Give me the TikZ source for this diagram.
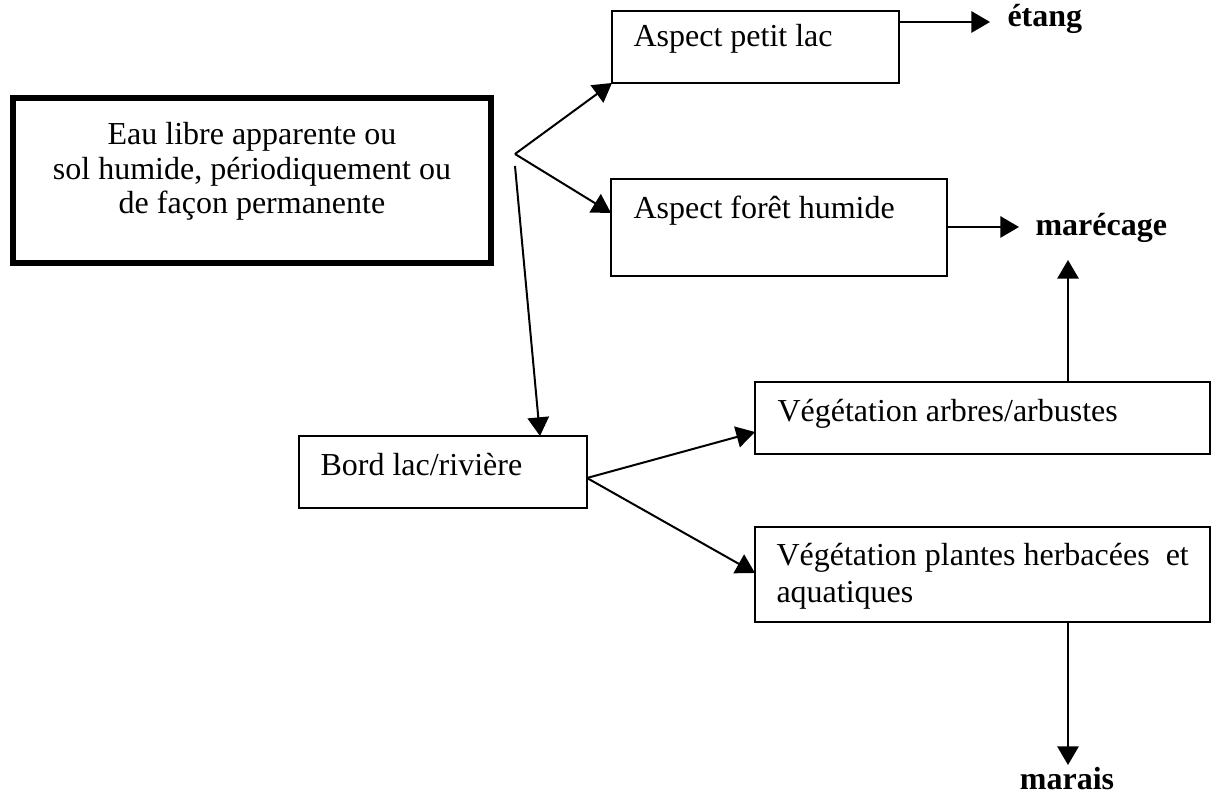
\documentclass[tikz,border=0pt]{standalone}
\usepackage{fontspec}
\setmainfont{Liberation Serif}
\usetikzlibrary{arrows.meta,calc}
\begin{document}
\begin{tikzpicture}[x=0.375pt,y=-0.375pt,
  box/.style={draw,line width=0.75pt,inner sep=0pt,outer sep=0pt,anchor=north west},
  lbl/.style={inner sep=0pt,anchor=base west,font=\fontsize{12pt}{13.8pt}\selectfont},
  outlbl/.style={inner sep=0pt,font=\fontsize{12pt}{13.8pt}\selectfont\bfseries},
  conn/.style={line width=0.75pt,-{Triangle[length=7pt,width=8pt]}}]
\useasboundingbox (0,0) rectangle (1211,796);

% boxes
\node[box,line width=2.3pt,minimum width=179.25pt,minimum height=61.875pt] (main) at (13,98) {};
\node[box,minimum width=107.625pt,minimum height=27pt] (petit) at (612,11) {};
\node[box,minimum width=126pt,minimum height=36.375pt] (foret) at (611,179) {};
\node[box,minimum width=108pt,minimum height=27pt] (bord) at (299,436) {};
\node[box,minimum width=170.625pt,minimum height=27pt] (arbres) at (755,382) {};
\node[box,minimum width=170.625pt,minimum height=35.625pt] (plantes) at (755,527) {};

% texts
\node[inner sep=0pt,anchor=north,align=center,font=\fontsize{12pt}{12.9pt}\selectfont] (tmain) at (252,122)
  {Eau libre apparente ou\\sol humide, périodiquement ou\\de façon permanente};
\node[lbl] (tpetit) at (633,47) {Aspect petit lac};
\node[lbl] (tforet) at (633,219) {Aspect forêt humide};
\node[lbl] (tbord) at (320,476) {Bord lac/rivière};
\node[lbl] (tarbres) at (777,422) {Végétation arbres/arbustes};
\node[lbl,anchor=north west,align=left] (tplantes) at (776,543) {Végétation plantes herbacées\ \ et\\aquatiques};

% outcomes
\node[outlbl,anchor=base west] (etang) at (1007,27) {étang};
\node[outlbl,anchor=base west] (marecage) at (1035,236) {marécage};
\node[outlbl,anchor=base] (marais) at (1067,790) {marais};

% connector points
\coordinate (B) at (515,154);
\coordinate (Bd) at (515,166);
\coordinate (eA) at (990,22);
\coordinate (mA) at (1019,227);
\coordinate (uA) at (1068,260);
\coordinate (dA) at (1068,765);

% connectors
\draw[conn] (B) -- (petit.south west);
\draw[conn] (B) -- ($(foret.north west)+(0,34)$);
\draw[conn] (Bd) -- ($(bord.north west)+(241,0)$);
\draw[conn] (petit.east |- eA) -- (eA);
\draw[conn] (foret.east |- mA) -- (mA);
\draw[conn] (uA |- arbres.north) -- (uA);
\draw[conn] (dA |- plantes.south) -- (dA);
\coordinate (bo) at ($(bord.north east)+(0,42)$);
\draw[conn] (bo) -- ($(arbres.north west)+(0,50)$);
\draw[conn] (bo) -- ($(plantes.north west)+(0,46)$);
\end{tikzpicture}
\end{document}
